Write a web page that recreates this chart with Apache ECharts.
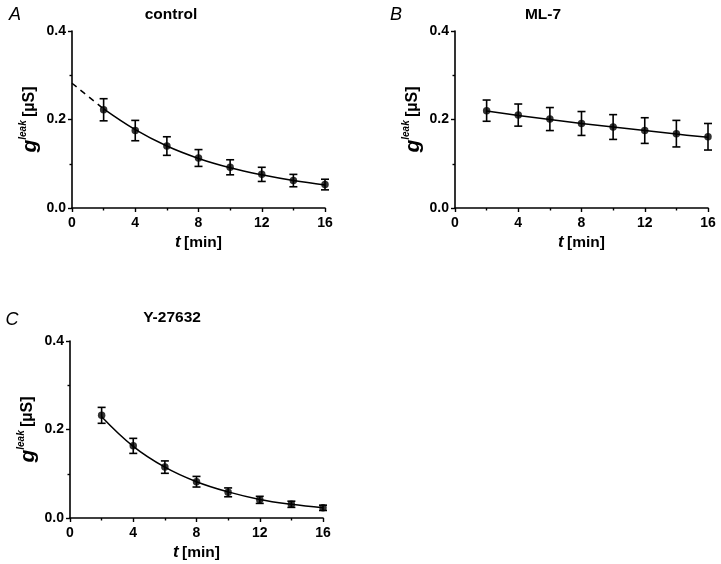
<!DOCTYPE html>
<html>
<head>
<meta charset="utf-8">
<script src="https://cdn.jsdelivr.net/npm/echarts@6/dist/echarts.min.js"></script>
<style>
html,body{margin:0;padding:0;background:#fff;}
#chart{width:721px;height:564px;}
</style>
</head>
<body>
<div id="chart"></div>
<script>
// ---- data ----
const times = [2, 4, 6, 8, 10, 12, 14, 16];
const xTicks = [0, 4, 8, 12, 16];
const yTicks = [0.0, 0.2, 0.4];

const controlMean = [0.222, 0.175, 0.140, 0.113, 0.092, 0.076, 0.062, 0.053];
const controlErr  = [0.025, 0.023, 0.021, 0.019, 0.017, 0.016, 0.014, 0.012];
const controlFit  = [0.224, 0.177, 0.140, 0.112, 0.091, 0.075, 0.062, 0.052];
const controlExtrapT = [0, 2];
const controlExtrapV = [0.282, 0.224];

const ml7Mean = [0.220, 0.210, 0.201, 0.191, 0.183, 0.175, 0.168, 0.161];
const ml7Err  = [0.024, 0.025, 0.026, 0.027, 0.028, 0.029, 0.030, 0.030];
const ml7Fit  = [0.219, 0.209, 0.200, 0.191, 0.183, 0.175, 0.167, 0.160];

const yMean = [0.232, 0.163, 0.115, 0.082, 0.058, 0.041, 0.031, 0.023];
const yErr  = [0.018, 0.017, 0.014, 0.012, 0.010, 0.008, 0.007, 0.006];
const yFit  = [0.229, 0.162, 0.115, 0.082, 0.059, 0.042, 0.031, 0.023];

const panelTitles = ['control', 'ML-7', 'Y-27632'];
const panelLetters = ['A', 'B', 'C'];

// ---- chart ----
const FONT = '"Liberation Sans", Arial, Helvetica, sans-serif';
const grids = [
  {left: 72, top: 31, width: 253, height: 177},
  {left: 455, top: 31, width: 253, height: 177},
  {left: 70, top: 341, width: 253, height: 177}
];

function xAxisFor(i) {
  return {
    gridIndex: i, type: 'value', min: xTicks[0], max: xTicks[xTicks.length - 1], interval: 4,
    axisLine: {show: true, onZero: false, lineStyle: {color: '#000', width: 1.6}},
    axisTick: {show: true, length: 4, lineStyle: {color: '#000', width: 1.4}},
    minorTick: {show: true, splitNumber: 2, length: 2.5, lineStyle: {color: '#000', width: 1.4}},
    splitLine: {show: false},
    axisLabel: {color: '#000', fontFamily: FONT, fontWeight: 'bold', fontSize: 14, margin: 8},
    name: '{t|t} {n|[min]}', nameLocation: 'middle', nameGap: 26,
    nameTextStyle: {
      rich: {
        t: {fontFamily: FONT, fontWeight: 'bold', fontStyle: 'italic', fontSize: 17, color: '#000'},
        n: {fontFamily: FONT, fontWeight: 'bold', fontSize: 15.5, color: '#000'}
      }
    }
  };
}
function yAxisFor(i) {
  return {
    gridIndex: i, type: 'value', min: yTicks[0], max: yTicks[yTicks.length - 1], interval: 0.2,
    axisLine: {show: true, onZero: false, lineStyle: {color: '#000', width: 1.6}},
    axisTick: {show: true, length: 4, lineStyle: {color: '#000', width: 1.4}},
    minorTick: {show: true, splitNumber: 2, length: 2.5, lineStyle: {color: '#000', width: 1.4}},
    splitLine: {show: false},
    axisLabel: {color: '#000', fontFamily: FONT, fontWeight: 'bold', fontSize: 14, margin: 6,
      formatter: v => v.toFixed(1)},
    name: '{g|g}{s|leak} {n|[µS]}', nameLocation: 'middle', nameGap: 30, nameRotate: 90,
    nameTextStyle: {
      rich: {
        g: {fontFamily: FONT, fontWeight: 'bold', fontStyle: 'italic', fontSize: 21, color: '#000'},
        s: {fontFamily: FONT, fontWeight: 'bold', fontStyle: 'italic', fontSize: 10, color: '#000', padding: [0, 0, 14, 0]},
        n: {fontFamily: FONT, fontWeight: 'bold', fontSize: 16, color: '#000'}
      }
    }
  };
}

function pairs(xs, ys) { return xs.map((x, i) => [x, ys[i]]); }

function errSeries(i, mean, err) {
  return {
    type: 'custom', xAxisIndex: i, yAxisIndex: i, z: 3,
    data: times.map((t, k) => [t, mean[k] - err[k], mean[k] + err[k]]),
    renderItem: function (params, api) {
      const lo = api.coord([api.value(0), api.value(1)]);
      const hi = api.coord([api.value(0), api.value(2)]);
      const w = 4;
      const st = {stroke: '#000', lineWidth: 1.6};
      return {
        type: 'group',
        children: [
          {type: 'line', shape: {x1: lo[0], y1: lo[1], x2: hi[0], y2: hi[1]}, style: st},
          {type: 'line', shape: {x1: lo[0] - w, y1: lo[1], x2: lo[0] + w, y2: lo[1]}, style: st},
          {type: 'line', shape: {x1: hi[0] - w, y1: hi[1], x2: hi[0] + w, y2: hi[1]}, style: st}
        ]
      };
    }
  };
}
function fitSeries(i, xs, ys, dashed) {
  return {
    type: 'line', xAxisIndex: i, yAxisIndex: i, data: pairs(xs, ys), smooth: 0.4,
    symbol: 'none', z: 2,
    lineStyle: {color: '#000', width: 1.5, type: dashed ? [6, 5] : 'solid'}
  };
}
function pointSeries(i, ys) {
  return {
    type: 'scatter', xAxisIndex: i, yAxisIndex: i, data: pairs(times, ys),
    symbol: 'circle', symbolSize: 7.5, itemStyle: {color: '#000'}, z: 4
  };
}

const letterPos = [[15, 15], [396, 15], [12, 320]];
const titlePos = [[171, 15], [543, 15], [172, 318]];
const graphics = [];
for (let i = 0; i < 3; i++) {
  graphics.push({type: 'text', x: letterPos[i][0], y: letterPos[i][1],
    style: {text: panelLetters[i], font: 'italic 18px ' + FONT, fill: '#000', textAlign: 'center', textVerticalAlign: 'middle'}});
  graphics.push({type: 'text', x: titlePos[i][0], y: titlePos[i][1],
    style: {text: panelTitles[i], font: 'bold 15.5px ' + FONT, fill: '#000', textAlign: 'center', textVerticalAlign: 'middle'}});
}

const option = {
  backgroundColor: '#fff',
  animation: false,
  grid: grids,
  xAxis: [0, 1, 2].map(xAxisFor),
  yAxis: [0, 1, 2].map(yAxisFor),
  graphic: graphics,
  series: [
    fitSeries(0, controlExtrapT, controlExtrapV, true),
    fitSeries(0, times, controlFit, false),
    errSeries(0, controlMean, controlErr),
    pointSeries(0, controlMean),
    fitSeries(1, times, ml7Fit, false),
    errSeries(1, ml7Mean, ml7Err),
    pointSeries(1, ml7Mean),
    fitSeries(2, times, yFit, false),
    errSeries(2, yMean, yErr),
    pointSeries(2, yMean)
  ]
};
const chart = echarts.init(document.getElementById('chart'), null, {renderer: 'canvas'});
chart.setOption(option);
</script>
</body>
</html>
